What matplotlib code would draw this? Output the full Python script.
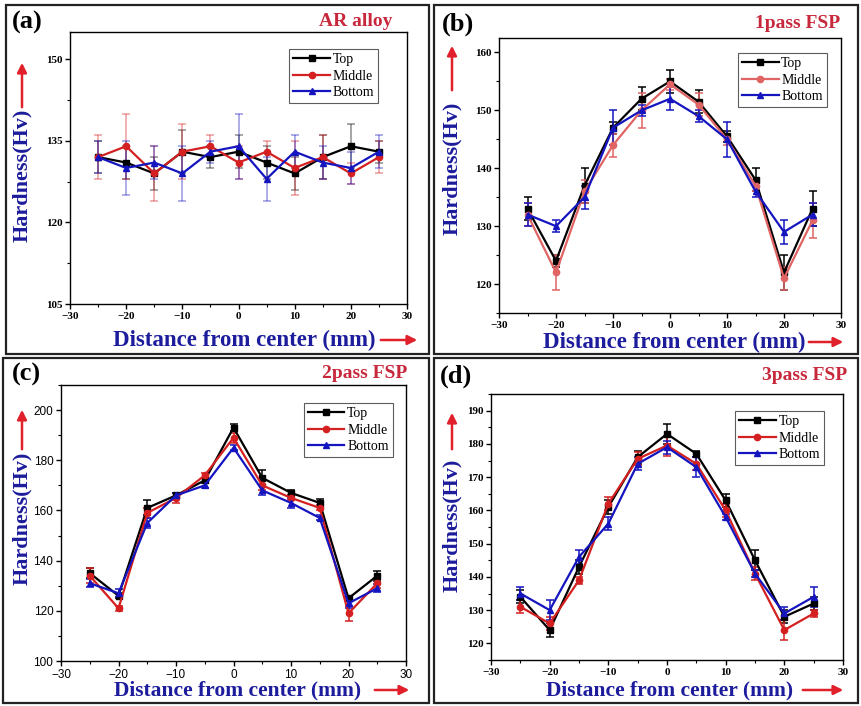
import numpy as np
import matplotlib
matplotlib.use('Agg')
import matplotlib.pyplot as plt
from matplotlib.ticker import AutoMinorLocator
from matplotlib.patches import Rectangle, FancyArrowPatch
from matplotlib.lines import Line2D

# distance from the center (mm)
x = [-25, -20, -15, -10, -5, 0, 5, 10, 15, 20, 25]

# (a) AR alloy
a_top = [132, 131, 129, 133, 132, 133, 131, 129, 132, 134, 133]
a_mid = [132, 134, 129, 133, 134, 131, 133, 130, 132, 129, 132]
a_bot = [132, 130, 131, 129, 133, 134, 128, 133, 131, 130, 133]
a_top_err = [3, 3, 3, 4, 2, 3, 3, 3, 4, 4, 2]
a_mid_err = [4, 6, 5, 5, 2, 3, 2, 5, 4, 2, 3]
a_bot_err = [3, 5, 3, 5, 2, 6, 4, 3, 3, 3, 3]

# (b) 1pass FSP
b_top = [133, 124, 137, 147, 152, 155, 151.5, 145.5, 138, 122, 133]
b_mid = [132, 122, 136, 144, 150, 154.5, 151, 145, 137, 121, 131]
b_bot = [132, 130, 135, 147, 150, 152, 149, 145, 136, 129, 132]
b_top_err = [2, 1, 3, 1, 2, 2, 2, 1, 2, 3, 3]
b_mid_err = [2, 3, 2, 2, 3, 1, 2, 1, 1, 2, 3]
b_bot_err = [2, 1, 2, 3, 1, 2, 1, 3, 1, 2, 2]

# (c) 2pass FSP
c_top = [135, 126, 161, 166, 172, 193, 173, 167, 163, 125, 134]
c_mid = [134, 121, 159, 165, 174, 189, 170, 165, 161, 119, 131]
c_bot = [131, 127, 155, 166, 170, 185, 168, 163, 157, 123, 129]
c_top_err = [2, 1, 3, 1, 1, 1.5, 3, 1, 1.5, 1, 2]
c_mid_err = [3, 1, 2, 2, 1, 2, 2, 1, 1, 3, 2]
c_bot_err = [1.5, 1.5, 2, 1, 1, 1, 2, 2, 1, 2, 1.5]

# (d) 3pass FSP
d_top = [134, 124, 143, 161, 176, 183, 177, 163, 145, 128, 132]
d_mid = [131, 126, 139, 162, 175.5, 179.5, 174, 160, 141, 124, 129]
d_bot = [135, 130, 146, 156, 174, 179, 173, 158, 141, 129, 134]
d_top_err = [2, 2, 2, 2, 2, 3, 1, 2, 3, 2, 2]
d_mid_err = [2, 2, 1, 2, 2, 3, 2, 2, 2, 3, 1]
d_bot_err = [2, 3, 2, 2, 2, 2, 3, 1, 1, 2, 3]

series_names = ['Top', 'Middle', 'Bottom']

W, H = 861, 706
fig = plt.figure(figsize=(W / 100, H / 100), dpi=100)

SERIF = 'Liberation Serif'
LBL_BLUE = '#1c1c9c'
ARROW_RED = '#e0202a'
TITLE_RED = '#c8283c'


def px_rect(left, top, right, bottom):
    return [left / W, 1 - bottom / H, (right - left) / W, (bottom - top) / H]


def red_arrow(p0, p1):
    fig.add_artist(FancyArrowPatch(
        (p0[0] / W, 1 - p0[1] / H), (p1[0] / W, 1 - p1[1] / H),
        transform=fig.transFigure, arrowstyle='-|>', mutation_scale=14,
        color=ARROW_RED, linewidth=1.8))


def draw_panel(rect, data, errs, colors, ylim, yticks, letter, title,
               tick_font, err_alpha, head, ylab, xlab, leg_anchor):
    ax = fig.add_axes(px_rect(*rect))
    markers = ['s', 'o', '^']
    handles = []
    for vals, e, c, m, name in zip(data, errs, colors, markers, series_names):
        ax.errorbar(x, vals, yerr=e, color=c, marker=m, markersize=4.5,
                    linewidth=1.6, elinewidth=1.1, capsize=3, capthick=1.1,
                    ecolor=matplotlib.colors.to_rgba(c, err_alpha))
        handles.append(Line2D([], [], color=c, marker=m, markersize=4.5,
                              linewidth=1.6, label=name))
    ax.set_xlim(-30, 30)
    ax.set_ylim(*ylim)
    ax.set_xticks([-30, -20, -10, 0, 10, 20, 30])
    ax.set_yticks(yticks)
    ax.xaxis.set_minor_locator(AutoMinorLocator(2))
    ax.yaxis.set_minor_locator(AutoMinorLocator(2))
    ax.tick_params(which='both', direction='out', top=False, right=False)
    ax.tick_params(which='major', length=3.5, width=1, pad=2)
    ax.tick_params(which='minor', length=2.2, width=0.8)
    for lab in ax.get_xticklabels() + ax.get_yticklabels():
        if tick_font == 'sans':
            lab.set_fontfamily('Liberation Sans')
            lab.set_fontsize(8.5)
        else:
            lab.set_fontfamily(SERIF)
            lab.set_fontweight('bold')
            lab.set_fontsize(8)
    for s in ax.spines.values():
        s.set_linewidth(1.0)
    leg = ax.legend(handles=handles, loc='upper right',
                    bbox_to_anchor=leg_anchor,
                    prop={'family': SERIF, 'size': 10}, frameon=True,
                    fancybox=False, edgecolor='#333333', handlelength=2.6,
                    handletextpad=0.2, borderpad=0.3, labelspacing=0.25,
                    borderaxespad=0.0)
    leg.get_frame().set_linewidth(0.8)

    # panel letter and title
    fig.text(head[0] / W, 1 - head[1] / H, letter, family=SERIF,
             weight='bold', size=19, va='center', ha='left')
    fig.text(head[2] / W, 1 - head[1] / H, title, family=SERIF,
             weight='bold', size=14, color=TITLE_RED, va='center', ha='right')

    # y label with its arrow
    yx, ymid, ya0, ya1 = ylab
    fig.text(yx / W, 1 - ymid / H, 'Hardness(Hv)', family=SERIF,
             weight='bold', size=16, color=LBL_BLUE, rotation=90,
             va='center', ha='center')
    red_arrow((yx, ya0), (yx, ya1))

    # x label with its arrow
    xc, xy, xa0, xa1, xs = xlab
    fig.text(xc / W, 1 - xy / H, 'Distance from center (mm)',
             family=SERIF, weight='bold', size=xs, color=LBL_BLUE,
             va='center', ha='center')
    red_arrow((xa0, xy), (xa1, xy))
    return ax


dark = ['black', '#d42020', '#1515c0']
dark_b = ['black', '#e06464', '#1515c0']

draw_panel((70, 32, 407, 304), [a_top, a_mid, a_bot],
           [a_top_err, a_mid_err, a_bot_err], dark, (105, 155),
           [105, 120, 135, 150], '(a)', 'AR alloy', 'serif', 0.45,
           (12, 22, 392), (22, 175, 110, 60), (244, 340, 378, 420, 16.5),
           (0.914, 0.9375))
draw_panel((499, 38, 841, 313), [b_top, b_mid, b_bot],
           [b_top_err, b_mid_err, b_bot_err], dark_b, (115, 162.5),
           [120, 130, 140, 150, 160], '(b)', '1pass FSP', 'serif', 1.0,
           (442, 24, 840), (452, 168, 93, 43), (674, 342, 806, 846, 16.5),
           (0.959, 0.945))
draw_panel((61, 385, 406, 661), [c_top, c_mid, c_bot],
           [c_top_err, c_mid_err, c_bot_err], dark, (100, 210),
           [100, 120, 140, 160, 180, 200], '(c)', '2pass FSP', 'sans', 1.0,
           (12, 374, 407), (22, 518, 452, 407), (238, 690, 372, 412, 15.5),
           (0.962, 0.935))
draw_panel((491, 394, 843, 660), [d_top, d_mid, d_bot],
           [d_top_err, d_mid_err, d_bot_err], dark, (115, 195),
           [120, 130, 140, 150, 160, 170, 180, 190], '(d)', '3pass FSP',
           'serif', 1.0, (440, 376, 847), (452, 525, 452, 410),
           (670, 690, 800, 846, 15.5), (0.946, 0.936))

# panel frames
for l, t_, r, b in [(6, 5, 429, 354), (434, 5, 858, 354),
                    (3, 358, 429, 703), (434, 358, 858, 703)]:
    fig.add_artist(Rectangle((l / W, 1 - b / H), (r - l) / W, (b - t_) / H,
                             transform=fig.transFigure, fill=False,
                             edgecolor='#222222', linewidth=1.6))

fig.savefig('out.png', dpi=100)
